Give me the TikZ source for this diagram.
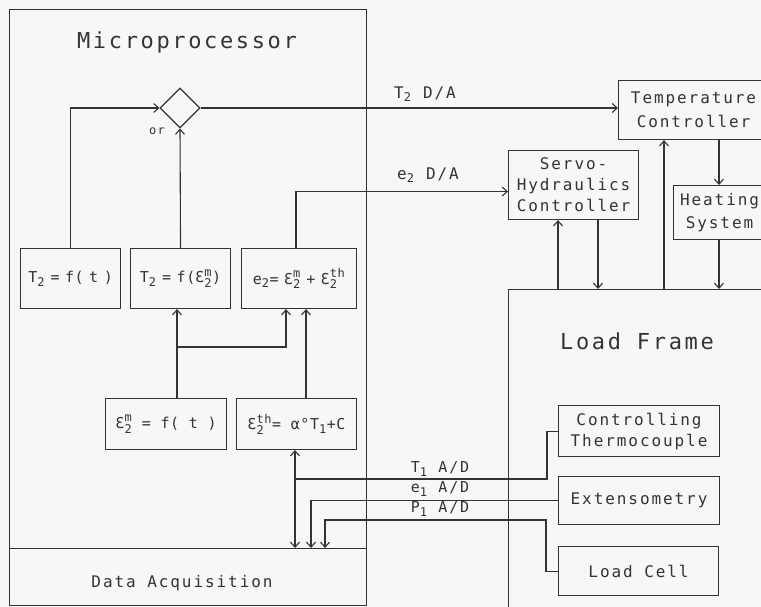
\documentclass[tikz,border=0pt]{standalone}
\usepackage{fontspec}
\usepackage{amsmath}
\setmainfont{DejaVu Sans Mono}[LetterSpace=12]
\newfontfamily\fml{DejaVu Sans Mono}[LetterSpace=4]
\usetikzlibrary{arrows.meta,shapes.geometric,calc}
\definecolor{ink}{HTML}{333333}
\definecolor{paper}{HTML}{F7F7F7}
\DeclareMathSizes{16}{16}{12}{9}
\DeclareMathSizes{15}{15}{12}{9}
\DeclareMathSizes{14}{14}{11}{8}
\newcommand\eps[2]{$\text{Ɛ}^{\text{#1}}_{\text{#2}}$}
\newcommand\lo[1]{$_{\text{#1}}$}
\newcommand\gap{\hspace{5.5pt}}
\begin{document}
\begin{tikzpicture}[x=1pt,y=-1pt,color=ink,line width=1.1pt,
  box/.style={draw=ink,rectangle,inner sep=0pt,anchor=north west,align=center,font=\fontsize{16}{21}\selectfont},
  fbox/.style={box,font=\fml\fontsize{15}{20}\selectfont},
  arr/.style={-{Straight Barb[length=5pt,width=9pt]}},
  sm/.style={font=\fontsize{16}{21}\selectfont},
  big/.style={font=\fontsize{22}{26}\selectfont}]
\useasboundingbox (0,0) rectangle (761,607);
\fill[paper] (0,0) rectangle (761,607);
\clip (0,0) rectangle (761,607);
% microprocessor
\node[box,minimum width=357pt,minimum height=539pt] (mp) at (9,9) {};
\node[box,minimum width=357pt,minimum height=57pt] (da) at (9,548) {};
\node[big] (mpt) at (187,42) {Microprocessor};
\node[sm] (dat) at (182,583) {Data Acquisition};
\node[draw=ink,diamond,minimum width=40pt,minimum height=40pt,inner sep=0pt] (dm) at (180,108) {};
\node[font=\fontsize{12}{14}\selectfont] (or) at (157,131) {or};
% formula boxes
\node[fbox,minimum width=100pt,minimum height=60pt] (b1) at (20,248) {T\lo{2}\gap=\gap f(\gap t\gap)};
\node[fbox,minimum width=100pt,minimum height=60pt] (b2) at (130,248) {T\lo{2}\gap=\gap f(\eps{m}{2})};
\node[fbox,minimum width=115pt,minimum height=60pt] (b3) at (241,248) {e\lo{2}=\gap\eps{m}{2}\gap+\gap\eps{th}{2}};
\node[fbox,minimum width=121pt,minimum height=51pt] (b4) at (105,398) {\eps{m}{2} = f( t )};
\node[fbox,minimum width=120pt,minimum height=51pt] (b5) at (236,398) {\eps{th}{2}= α°T\lo{1}+C};
% right side
\node[box,minimum width=150pt,minimum height=59pt,font=\fontsize{16}{24}\selectfont] (tc) at (618,80) {Temperature\\Controller};
\node[box,minimum width=92pt,minimum height=54pt,font=\fontsize{16}{23}\selectfont] (hs) at (673,185) {Heating\\System};
\node[box,minimum width=130pt,minimum height=69pt] (sv) at (508,150) {Servo-\\Hydraulics\\Controller};
\node[box,minimum width=280pt,minimum height=340pt] (lf) at (508,289) {};
\node[big] (lft) at (637,341) {Load Frame};
\node[box,minimum width=161pt,minimum height=51pt] (th) at (558,405) {Controlling\\Thermocouple};
\node[box,minimum width=161pt,minimum height=48pt] (ex) at (558,476) {Extensometry};
\node[box,minimum width=160pt,minimum height=49pt] (lc) at (558,546) {Load Cell};
% labels
\node[sm] (l1) at (425,94) {T\lo{2} D/A};
\node[sm] (l2) at (428,175) {e\lo{2} D/A};
\node[font=\fontsize{15}{18}\selectfont] (l3) at (440,469) {T\lo{1} A/D};
\node[font=\fontsize{15}{18}\selectfont] (l4) at (440,489) {e\lo{1} A/D};
\node[font=\fontsize{15}{18}\selectfont] (l5) at (440,509) {P\lo{1} A/D};
% connectors
\draw[arr] (b1.north) |- (dm.west);
\draw[arr] (b2.north) -- (dm.south);
\draw[arr] (dm.east) -- (dm.east -| tc.west);
\draw[arr] (b3.north -| 296,0) |- ([yshift=-6.5pt]sv.west);
\draw[arr] (b4.north -| 177,0) -- (b2.south -| 177,0);
\draw[arr] (177,347) -| (b3.south -| 286,0);
\draw[arr] (b5.north -| 306,0) -- (b3.south -| 306,0);
\draw (th.west) -- ++(-11,0) |- (295,479);
\draw[arr] (295,479) -- (b5.south -| 295,0);
\draw[arr] (295,479) -- (da.north -| 295,0);
\draw[arr] (ex.west) -| (da.north -| 311,0);
\draw[arr] (lc.west) -- ++(-12,0) |- (325,520) -- (da.north -| 325,0);
\draw[arr] (lf.north -| 558,0) -- (sv.south -| 558,0);
\draw[arr] (sv.south -| 598,0) -- (lf.north -| 598,0);
\draw[arr] (lf.north -| 664,0) -- (tc.south -| 664,0);
\draw[arr] (tc.south -| 719,0) -- (hs.north -| 719,0);
\draw[arr] (hs.south -| 719,0) -- (lf.north -| 719,0);
\end{tikzpicture}
\end{document}
